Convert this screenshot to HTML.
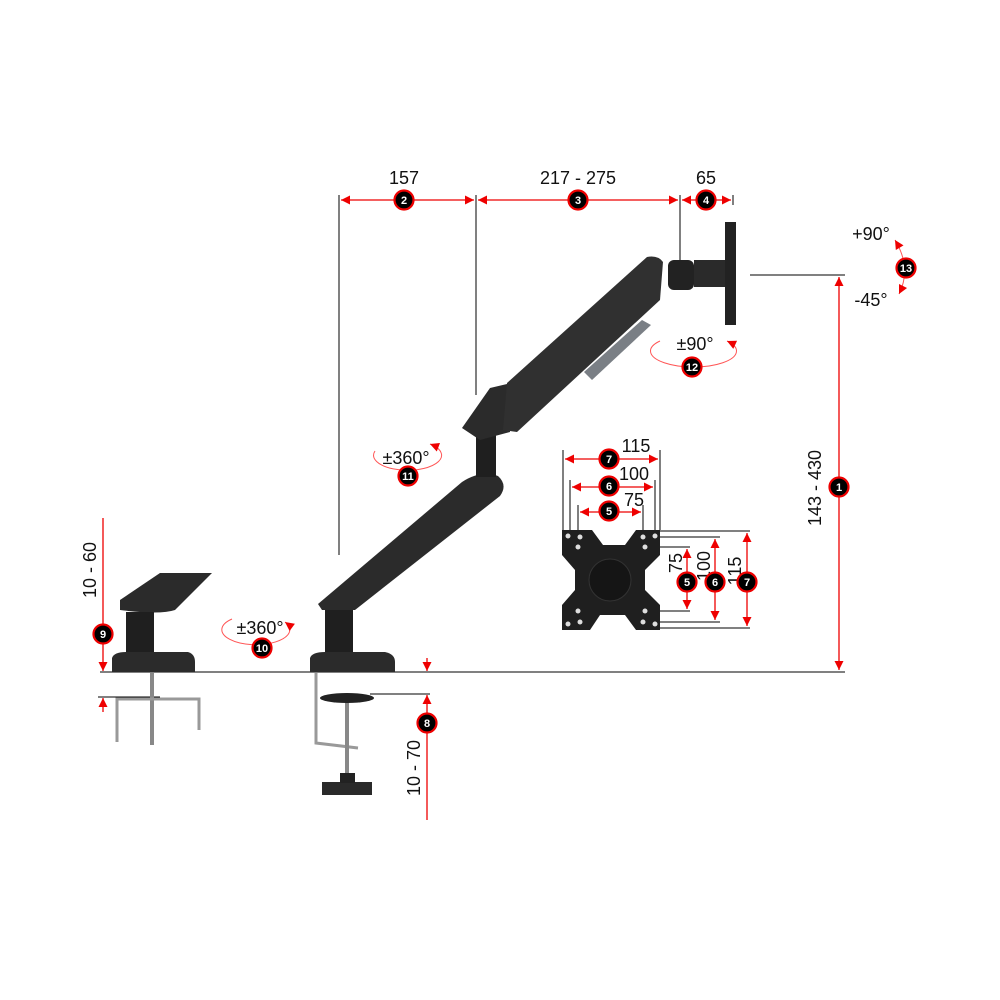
<!DOCTYPE html>
<html><head><meta charset="utf-8"><style>
html,body{margin:0;padding:0;background:#fff;}
svg{display:block;}
text{font-family:"Liberation Sans",sans-serif;}
.t{font-size:18px;fill:#111;}
.bn{font-size:11px;font-weight:bold;fill:#fff;text-anchor:middle;}
</style></head><body>
<svg width="1000" height="1000" viewBox="0 0 1000 1000" xmlns="http://www.w3.org/2000/svg">
<defs>
<marker id="a" viewBox="0 0 10 10" refX="10" refY="5" markerWidth="11" markerHeight="9" orient="auto-start-reverse" markerUnits="userSpaceOnUse"><path d="M0,0L10,5L0,10z" fill="#e00"/></marker>
<g id="b"><circle r="9.5" fill="#000" stroke="#e00" stroke-width="2.2"/></g>
</defs>
<g stroke="#000" stroke-width="1">
<line x1="339" y1="195" x2="339" y2="555"/>
<line x1="476" y1="195" x2="476" y2="395"/>
<line x1="680" y1="195" x2="680" y2="272"/>
<line x1="733" y1="195" x2="733" y2="205"/>
<line x1="750" y1="275" x2="845" y2="275"/>
<line x1="100" y1="672" x2="845" y2="672"/>
<line x1="98" y1="697" x2="160" y2="697"/>
<line x1="370" y1="694" x2="430" y2="694"/>
<line x1="563" y1="450" x2="563" y2="530"/><line x1="660" y1="450" x2="660" y2="530"/>
<line x1="570" y1="480" x2="570" y2="535"/><line x1="655" y1="480" x2="655" y2="535"/>
<line x1="578" y1="505" x2="578" y2="545"/><line x1="643" y1="505" x2="643" y2="545"/>
<line x1="660" y1="531" x2="750" y2="531"/><line x1="655" y1="537" x2="720" y2="537"/>
<line x1="645" y1="547" x2="690" y2="547"/><line x1="645" y1="611" x2="690" y2="611"/>
<line x1="655" y1="622" x2="720" y2="622"/><line x1="660" y1="628" x2="750" y2="628"/>
</g>
<g stroke="#e00" stroke-width="1.3" fill="none">
<line x1="341" y1="200" x2="474" y2="200" marker-start="url(#a)" marker-end="url(#a)"/>
<line x1="478" y1="200" x2="678" y2="200" marker-start="url(#a)" marker-end="url(#a)"/>
<line x1="682" y1="200" x2="731" y2="200" marker-start="url(#a)" marker-end="url(#a)"/>
<line x1="839" y1="277" x2="839" y2="670" marker-start="url(#a)" marker-end="url(#a)"/>
<line x1="103" y1="518" x2="103" y2="671" marker-end="url(#a)"/>
<line x1="103" y1="712" x2="103" y2="698" marker-end="url(#a)"/>
<line x1="427" y1="658" x2="427" y2="671" marker-end="url(#a)"/>
<line x1="427" y1="820" x2="427" y2="695" marker-end="url(#a)"/>
<line x1="565" y1="459" x2="658" y2="459" marker-start="url(#a)" marker-end="url(#a)"/>
<line x1="572" y1="487" x2="653" y2="487" marker-start="url(#a)" marker-end="url(#a)"/>
<line x1="580" y1="512" x2="641" y2="512" marker-start="url(#a)" marker-end="url(#a)"/>
<line x1="687" y1="549" x2="687" y2="609" marker-start="url(#a)" marker-end="url(#a)"/>
<line x1="715" y1="539" x2="715" y2="620" marker-start="url(#a)" marker-end="url(#a)"/>
<line x1="747" y1="533" x2="747" y2="626" marker-start="url(#a)" marker-end="url(#a)"/>
</g>
<g stroke="#f55" stroke-width="1" fill="none">
<path d="M232,619 A34,15 0 1 0 285,622" marker-end="url(#a)"/>
<path d="M375,451 A34,15 0 1 0 430,444" marker-end="url(#a)"/>
<path d="M660,341 A43,16 0 1 0 727,341" marker-end="url(#a)"/>
<path d="M895,240 Q912,268 899,294" marker-start="url(#a)" marker-end="url(#a)"/>
</g>
<g fill="#2b2b2b">
<path d="M318,604 L462,482 Q480,470 498,476 Q508,485 500,496 L355,610 L322,610 Z"/>
<rect x="325" y="610" width="28" height="42" fill="#1f1f1f"/>
<path d="M310,658 Q312,652 325,652 L385,652 Q395,654 395,662 L395,672 L310,672 Z"/>
<rect x="476" y="432" width="20" height="45" fill="#1f1f1f"/>
<path d="M462,428 L490,388 L507,384 L510,432 L480,440 Z"/>
<path d="M507,383 L647,257 Q658,255 663,262 L660,300 L517,432 L503,430 Z" fill="#303030"/>
<path d="M584,372 L642,320 L651,325 L592,380 Z" fill="#7a7f85"/>
<rect x="668" y="260" width="26" height="30" rx="6" fill="#222"/>
<rect x="694" y="260" width="33" height="27" fill="#2a2a2a"/>
<rect x="725" y="222" width="11" height="103" fill="#222"/>
<path d="M120,600 L160,573 L212,573 L175,610 Q160,615 120,610 Z"/>
<rect x="126" y="612" width="28" height="40" fill="#1f1f1f"/>
<path d="M112,658 Q114,652 126,652 L188,652 Q195,654 195,662 L195,672 L112,672 Z"/>
</g>
<g stroke="#999" stroke-width="3" fill="none">
<path d="M316,673 L316,743 L358,748"/>
<line x1="152" y1="673" x2="152" y2="745" stroke="#888" stroke-width="4"/>
<path d="M117,742 L117,699 L199,699 L199,730"/>
<line x1="347" y1="698" x2="347" y2="780" stroke="#888" stroke-width="4"/>
</g>
<ellipse cx="347" cy="698" rx="27" ry="5" fill="#222"/>
<path d="M322,782 L372,782 L372,795 L322,795 Z" fill="#2a2a2a"/>
<rect x="340" y="773" width="15" height="10" fill="#222"/>
<path d="M562,530 L592,530 L603,545 L625,545 L636,530 L660,530 L660,555 L645,570 L645,590 L660,605 L660,630 L636,630 L625,615 L600,615 L590,630 L562,630 L562,605 L575,590 L575,570 L562,555 Z" fill="#1f1f1f"/>
<circle cx="610" cy="580" r="21" fill="#151515" stroke="#333"/>
<g fill="#ddd">
<circle cx="568" cy="536" r="2.5"/><circle cx="580" cy="537" r="2.5"/><circle cx="578" cy="547" r="2.5"/>
<circle cx="655" cy="536" r="2.5"/><circle cx="643" cy="537" r="2.5"/><circle cx="645" cy="547" r="2.5"/>
<circle cx="568" cy="624" r="2.5"/><circle cx="580" cy="622" r="2.5"/><circle cx="578" cy="611" r="2.5"/>
<circle cx="655" cy="624" r="2.5"/><circle cx="643" cy="622" r="2.5"/><circle cx="645" cy="611" r="2.5"/>
</g>
<g class="t" text-anchor="middle">
<text x="404" y="184">157</text>
<text x="578" y="184">217 - 275</text>
<text x="706" y="184">65</text>
<text x="871" y="240">+90°</text>
<text x="871" y="306">-45°</text>
<text x="260" y="634">±360°</text>
<text x="406" y="464">±360°</text>
<text x="695" y="350">±90°</text>
<text x="636" y="452">115</text>
<text x="634" y="480">100</text>
<text x="634" y="506">75</text>
<text transform="translate(821,488) rotate(-90)">143 - 430</text>
<text transform="translate(96,570) rotate(-90)">10 - 60</text>
<text transform="translate(420,768) rotate(-90)">10 - 70</text>
<text transform="translate(682,563) rotate(-90)">75</text>
<text transform="translate(710,566) rotate(-90)">100</text>
<text transform="translate(741,571) rotate(-90)">115</text>
</g>
<g>
<use href="#b" x="404" y="200"/><text class="bn" x="404" y="204">2</text>
<use href="#b" x="578" y="200"/><text class="bn" x="578" y="204">3</text>
<use href="#b" x="706" y="200"/><text class="bn" x="706" y="204">4</text>
<use href="#b" x="839" y="487"/><text class="bn" x="839" y="491">1</text>
<use href="#b" x="906" y="268"/><text class="bn" x="906" y="272">13</text>
<use href="#b" x="103" y="634"/><text class="bn" x="103" y="638">9</text>
<use href="#b" x="427" y="723"/><text class="bn" x="427" y="727">8</text>
<use href="#b" x="262" y="648"/><text class="bn" x="262" y="652">10</text>
<use href="#b" x="408" y="476"/><text class="bn" x="408" y="480">11</text>
<use href="#b" x="692" y="367"/><text class="bn" x="692" y="371">12</text>
<use href="#b" x="609" y="459"/><text class="bn" x="609" y="463">7</text>
<use href="#b" x="609" y="486"/><text class="bn" x="609" y="490">6</text>
<use href="#b" x="609" y="511"/><text class="bn" x="609" y="515">5</text>
<use href="#b" x="687" y="582"/><text class="bn" x="687" y="586">5</text>
<use href="#b" x="715" y="582"/><text class="bn" x="715" y="586">6</text>
<use href="#b" x="747" y="582"/><text class="bn" x="747" y="586">7</text>
</g>
</svg>
</body></html>
